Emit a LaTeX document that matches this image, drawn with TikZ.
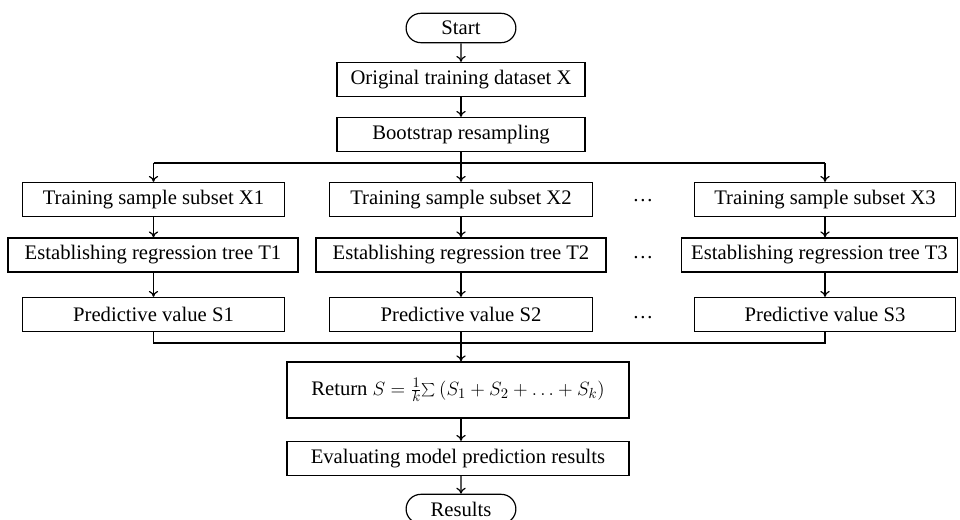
\documentclass[tikz,border=0pt]{standalone}
\usepackage{fontspec}
\setmainfont{Liberation Serif}
\usetikzlibrary{shapes.misc,arrows.meta}

\tikzset{
    box/.style={draw, line width=0.9pt, rectangle, minimum height=25.5pt, inner sep=2pt, font=\fontsize{15.5}{18}\selectfont},
    pill/.style={draw, line width=0.9pt, rounded rectangle, minimum height=22pt, minimum width=89pt, font=\fontsize{15.5}{18}\selectfont},
    link/.style={line width=0.9pt},
}

\begin{document}
\begin{tikzpicture}[x=0.75pt, y=-0.75pt, >={To[length=4.5pt,width=7pt]}]
    \useasboundingbox (0,0) rectangle (960,520);

    % main chain on top
    \node[pill] (start) at (461,28) {Start};
    \node[box, minimum width=186pt] (orig) at (461,79.5) {Original training dataset X};
    \node[box, minimum width=186pt] (boot) at (461,134.5) {Bootstrap resampling};
    \coordinate (br) at (461,163);

    % three branches
    \node[box, minimum width=197pt] (x1) at (153.5,199.5) {Training sample subset X1};
    \node[box, minimum width=197pt] (x2) at (461,199.5) {Training sample subset X2};
    \node[box, minimum width=196pt] (x3) at (825,199.5) {Training sample subset X3};

    \node[box, minimum width=217.5pt] (t1) at (153,255) {Establishing regression tree T1};
    \node[box, minimum width=217.5pt] (t2) at (461,255) {Establishing regression tree T2};
    \node[box, minimum width=207.5pt] (t3) at (819.5,255) {Establishing regression tree T3};

    \node[box, minimum width=197pt] (s1) at (153.5,314.5) {Predictive value S1};
    \node[box, minimum width=197pt] (s2) at (461,314.5) {Predictive value S2};
    \node[box, minimum width=196pt] (s3) at (825,314.5) {Predictive value S3};

    \node[font=\fontsize{15.5}{18}\selectfont] (d1) at (643,201) {\dots};
    \node[font=\fontsize{15.5}{18}\selectfont] (d2) at (643,258) {\dots};
    \node[font=\fontsize{15.5}{18}\selectfont] (d3) at (643,318) {\dots};

    \coordinate (mg) at (461,343);

    % result part
    \node[box, minimum width=256.5pt, minimum height=42pt] (ret) at (458,390)
        {Return $S=\frac{1}{k}{\textstyle\sum}\,(S_1+S_2+\ldots+S_k)$};
    \node[box, minimum width=256.5pt] (eval) at (458,458.5) {Evaluating model prediction results};
    \node[pill] (res) at (461,509) {Results};

    % connectors
    \draw[link, ->] (start) -- (orig);
    \draw[link, ->] (orig) -- (boot);
    \draw[link] (boot) -- (br);
    \draw[link] (br -| x1) -- (br -| x3);
    \foreach \n in {x1,x2,x3}
        \draw[link, ->] (br -| \n) -- (\n);

    \draw[link, ->] (x1) -- (x1 |- t1.north);
    \draw[link, ->] (x2) -- (t2);
    \draw[link, ->] (x3) -- (x3 |- t3.north);
    \draw[link, ->] (x1 |- t1.south) -- (s1);
    \draw[link, ->] (t2) -- (s2);
    \draw[link, ->] (x3 |- t3.south) -- (s3);

    \draw[link] (s1) |- (mg);
    \draw[link] (s3) |- (mg);
    \draw[link] (s2) -- (mg);
    \draw[link, ->] (mg) -- (mg |- ret.north);
    \draw[link, ->] (mg |- ret.south) -- (mg |- eval.north);
    \draw[link, ->] (mg |- eval.south) -- (res);
\end{tikzpicture}
\end{document}
